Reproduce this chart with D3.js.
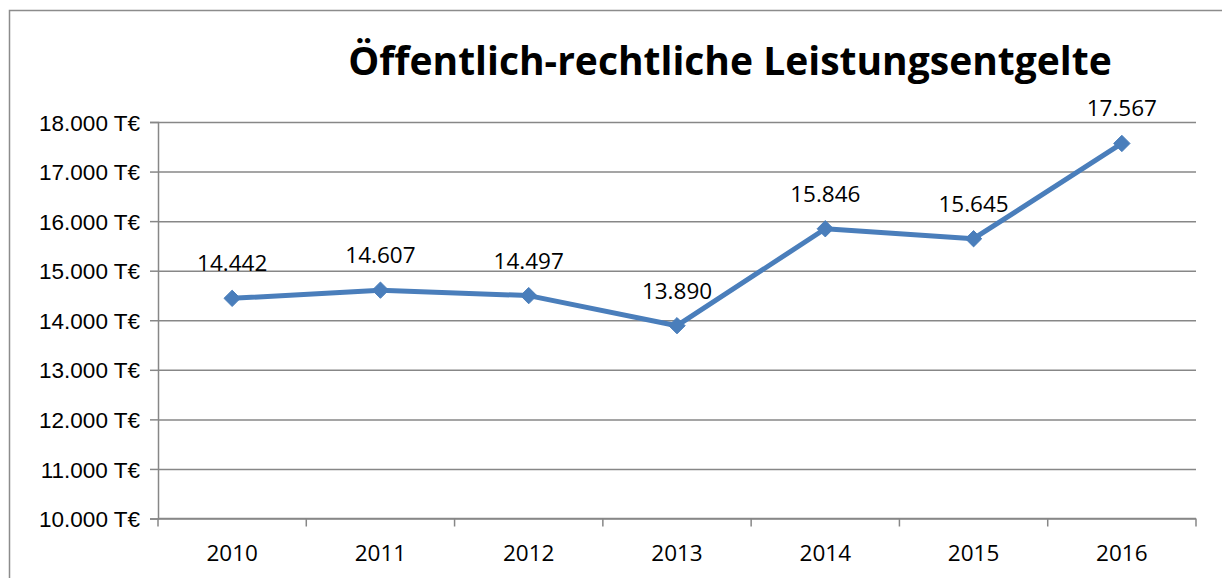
<!DOCTYPE html>
<html>
<head>
<meta charset="utf-8">
<script src="https://cdn.jsdelivr.net/npm/d3@7"></script>
<style>
  body { margin: 0; background: #fff; }
  svg { display: block; font-family: "Open Sans", sans-serif; }
</style>
</head>
<body>
<div class="plot"></div>
<script>
// chart data
const years = ["2010", "2011", "2012", "2013", "2014", "2015", "2016"];
const values = [14442, 14607, 14497, 13890, 15846, 15645, 17567];
const yTicks = [10000, 11000, 12000, 13000, 14000, 15000, 16000, 17000, 18000];
const title = "Öffentlich-rechtliche Leistungsentgelte";

const width = 1222,
    height = 578,
    margin = { top: 122, right: 26, bottom: 59.5, left: 158 },
    innerWidth = width - margin.left - margin.right,
    innerHeight = height - margin.top - margin.bottom;

const fmt = d3.formatLocale({ decimal: ",", thousands: ".", grouping: [3], currency: ["", "€"] }).format(",");

const root = d3.select(".plot").append("svg")
    .attr("width", width)
    .attr("height", height);

// outer frame of the chart (left and top edges are visible)
root.append("path")
    .attr("d", "M9.5," + height + "V10.5H" + width)
    .attr("fill", "none")
    .attr("stroke", "#8c8c8c")
    .attr("stroke-width", 1.5);

root.append("text")
    .attr("x", 730)
    .attr("y", 75)
    .attr("text-anchor", "middle")
    .style("font-size", "39px")
    .style("font-weight", "bold")
    .attr("fill", "#000")
    .text(title);

const svg = root.append("g")
    .attr("transform", "translate(" + margin.left + "," + margin.top + ")");

const xScale = d3.scaleBand().domain(years).range([0, innerWidth]);
const yScale = d3.scaleLinear().domain([10000, 18000]).range([innerHeight, 0]);

// grid
svg.append("g")
    .call(d3.axisLeft(yScale).tickValues(yTicks).tickSize(-innerWidth).tickFormat(""))
    .call(g => g.select(".domain").remove())
    .call(g => g.selectAll("line").attr("stroke", "#878787").attr("stroke-width", 1.5));

// y axis
svg.append("g")
    .call(d3.axisLeft(yScale).tickValues(yTicks).tickSize(8).tickPadding(10)
        .tickFormat(d => fmt(d) + " T€"))
    .call(g => g.select(".domain").attr("stroke", "#878787").attr("stroke-width", 1.5))
    .call(g => g.selectAll("line").attr("stroke", "#878787").attr("stroke-width", 1.5))
    .call(g => g.selectAll("text").attr("fill", "#000").style("font-size", "22.5px")
        .attr("font-family", null).attr("dy", "0.36em"));

// x axis: ticks between categories
const xAxisG = svg.append("g")
    .attr("transform", "translate(0," + innerHeight + ")");
xAxisG.append("line")
    .attr("x1", 0).attr("x2", innerWidth)
    .attr("stroke", "#878787").attr("stroke-width", 1.5);
xAxisG.selectAll(".sep")
    .data(years.concat(["end"]))
    .enter().append("line")
    .attr("class", "sep")
    .attr("x1", (d, i) => i * xScale.step())
    .attr("x2", (d, i) => i * xScale.step())
    .attr("y1", 0).attr("y2", 8)
    .attr("stroke", "#878787").attr("stroke-width", 1.5);
xAxisG.selectAll(".lbl")
    .data(years)
    .enter().append("text")
    .attr("class", "lbl")
    .attr("x", d => xScale(d) + xScale.bandwidth() / 2)
    .attr("y", 42)
    .attr("text-anchor", "middle")
    .style("font-size", "22.5px")
    .attr("fill", "#000")
    .text(d => d);

// line
const line = d3.line()
    .x((d, i) => xScale(years[i]) + xScale.bandwidth() / 2)
    .y(d => yScale(d));

svg.append("path")
    .datum(values)
    .attr("d", line)
    .attr("fill", "none")
    .attr("stroke", "#4a7ebb")
    .attr("stroke-width", 5)
    .attr("stroke-linejoin", "round");

// diamond markers
svg.append("g").selectAll("path.dot")
    .data(values)
    .enter().append("path")
    .attr("class", "dot")
    .attr("d", d3.symbol().type(d3.symbolDiamond2).size(170))
    .attr("transform", (d, i) => "translate(" + (xScale(years[i]) + xScale.bandwidth() / 2) + "," + yScale(d) + ")")
    .attr("fill", "#4a7ebb")
    .attr("stroke", "#4a7ebb")
    .attr("stroke-width", 1);

// data labels
svg.append("g").selectAll("text")
    .data(values)
    .enter().append("text")
    .attr("x", (d, i) => xScale(years[i]) + xScale.bandwidth() / 2)
    .attr("y", d => yScale(d) - 27)
    .attr("text-anchor", "middle")
    .style("font-size", "22.5px")
    .attr("fill", "#000")
    .text(d => fmt(d));
</script>
</body>
</html>
